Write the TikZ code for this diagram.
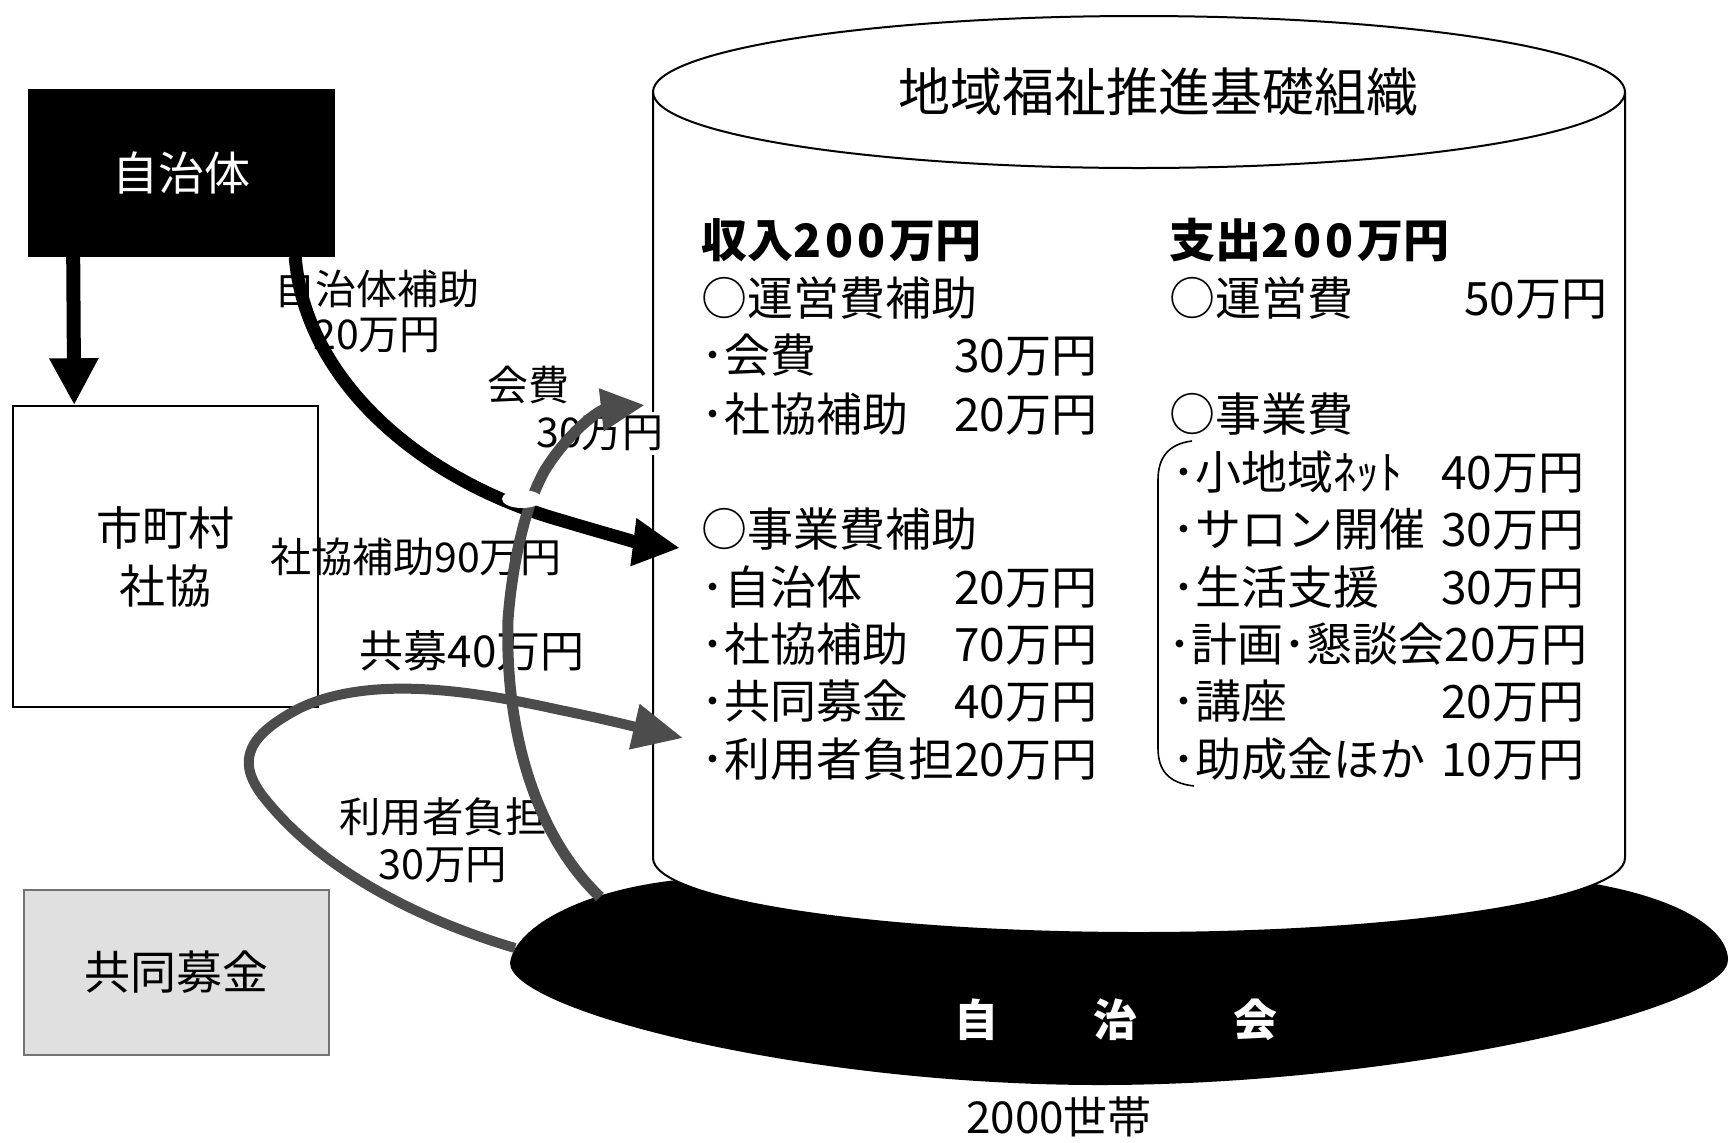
\documentclass[tikz,border=0pt]{standalone}
\usepackage{fontspec}
\setmainfont{Noto Sans CJK JP}
\usetikzlibrary{arrows.meta}
\newcommand\rowL[2]{\makebox[198pt]{#1\hfill #2}}
\newcommand\rowR[2]{\makebox[206pt]{#1\hfill #2}}
\newcommand\digsp[1]{#1\hspace{2pt}}
\begin{document}
\begin{tikzpicture}[x=0.5pt,y=-0.5pt,
  box/.style={draw, line width=0.8pt, inner sep=0pt, minimum width=152.5pt, font=\fontsize{23}{29}\selectfont, align=center},
  item/.style={font=\fontsize{23}{28}\selectfont, inner sep=0pt, anchor=west},
  headtxt/.style={font=\fontsize{23}{28}\selectfont\bfseries, inner sep=0pt, anchor=west},
  lbl/.style={font=\fontsize{20.5}{22.5}\selectfont, inner sep=0pt, align=center},
  blackarrow/.style={draw=black, line width=6.5pt, -{Triangle[length=23.5pt,width=22.5pt]}},
  downarrow/.style={draw=black, line width=7pt, -{Triangle[length=23.5pt,width=23pt]}},
  grayarrow/.style={draw=black!70, line width=5.5pt, -{Triangle[length=22pt,width=20pt]}},
]
\useasboundingbox (0,0) rectangle (1729,1142);
\fill[white] (0,0) rectangle (1729,1142);

% saucer (自治会)
\fill[black] (510,963) .. controls (515,925) and (590,885) .. (700,878) -- (1570,880)
  .. controls (1680,895) and (1728,930) .. (1728,960)
  .. controls (1728,1010) and (1400,1085) .. (1100,1085)
  .. controls (800,1085) and (510,1010) .. (510,963);

% cylinder
\draw[fill=white, line width=1pt] (653,92) -- (653,858)
  arc[start angle=180, end angle=0, x radius=486, y radius=75] -- (1625,92)
  arc[start angle=0, end angle=-180, x radius=486, y radius=76] -- cycle;
\draw[line width=1pt] (653,92) arc[start angle=180, end angle=0, x radius=486, y radius=76];

\node[font=\fontsize{26}{30}\selectfont, inner sep=0pt] (title) at (1158,92) {地域福祉推進基礎組織};

% income column
\node[headtxt] (inc) at (701,240) {収入\digsp{2}\digsp{0}\digsp{0}万円};
\node[item] (inc1) at (701,298) {○運営費補助};
\node[item] (inc2) at (701,355) {\rowL{･会費}{30万円}};
\node[item] (inc3) at (701,414) {\rowL{･社協補助}{20万円}};
\node[item] (inc4) at (701,529) {○事業費補助};
\node[item] (inc5) at (701,587) {\rowL{･自治体}{20万円}};
\node[item] (inc6) at (701,644) {\rowL{･社協補助}{70万円}};
\node[item] (inc7) at (701,701) {\rowL{･共同募金}{40万円}};
\node[item] (inc8) at (701,759) {\rowL{･利用者負担}{20万円}};

% expense column
\node[headtxt] (exp) at (1169,240) {支出\digsp{2}\digsp{0}\digsp{0}万円};
\node[item] (exp1) at (1169,298) {\makebox[219pt]{○運営費\hfill 50万円}};
\node[item] (exp2) at (1169,414) {○事業費};
\node[item] (exp3) at (1172,472) {\rowR{･小地域ﾈｯﾄ}{40万円}};
\node[item] (exp4) at (1172,529) {\rowR{･サロン開催}{30万円}};
\node[item] (exp5) at (1172,587) {\rowR{･生活支援}{30万円}};
\node[item] (exp6) at (1172,644) {\rowR{･計画･懇談会}{20万円}};
\node[item] (exp7) at (1172,701) {\rowR{･講座}{20万円}};
\node[item] (exp8) at (1172,759) {\rowR{･助成金ほか}{10万円}};
\draw[line width=0.8pt] (1192,441) .. controls (1168,444) and (1158,458) .. (1158,480)
  -- (1158,748) .. controls (1158,770) and (1168,783) .. (1194,786);

% left boxes
\node[box, fill=black, text=white, minimum height=83pt] (jt) at (181.5,173) {自治体};
\node[box, minimum height=150.5pt] (sk) at (165.5,556.5) {市町村\\社協};
\node[box, fill=black!12, draw=black!55, minimum height=82.5pt] (kb) at (176.5,972.5) {共同募金};

% labels
\node[lbl] (l1) at (377,311) {自治体補助\\20万円};
\node[lbl] (l2a) at (528,385) {会費};
\node[lbl, fill=white, inner sep=2pt] (l2b) at (600,433) {30万円};
\node[lbl] (l3) at (416,557) {社協補助90万円};
\node[lbl, font=\fontsize{22}{24}\selectfont] (l4) at (472,651) {共募40万円};
\node[lbl, font=\fontsize{20.7}{23.5}\selectfont] (l5) at (443,840) {利用者負担\\30万円};

% connectors
\coordinate (jtdown) at ([xshift=22.5pt]jt.south west);
\coordinate (skin) at ([xshift=31pt]sk.north west);
\draw[downarrow] (jtdown) -- (skin);

\coordinate (jtout) at ([xshift=133.5pt]jt.south west);
\coordinate (cylA) at (680,548);
\draw[blackarrow] (jtout) .. controls (305,380) and (420,480) .. (560,520)
  .. controls (600,532) and (640,543) .. (cylA);

\coordinate (zkA) at (600,897);
\coordinate (cylB) at (645,405);
\draw[grayarrow] (zkA) .. controls (530,830) and (505,720) .. (508,620)
  .. controls (512,565) and (525,505) .. (545,470)
  .. controls (570,430) and (600,410) .. (cylB);

\fill[white] (522,499) ellipse [x radius=20, y radius=9];

\coordinate (zkB) at (515,948);
\coordinate (cylC) at (683,738);
\draw[grayarrow, line width=5pt, -{Triangle[length=25pt,width=22pt]}] (zkB)
  .. controls (420,920) and (320,870) .. (262,795)
  .. controls (236,760) and (248,735) .. (300,708)
  .. controls (370,675) and (470,690) .. (560,710)
  .. controls (600,718) and (640,728) .. (cylC);

% saucer text and households
\node[font=\fontsize{22}{24}\selectfont\bfseries, text=white, inner sep=0pt] (zjk) at (1116,1020) {自\hspace{48pt}治\hspace{48pt}会};
\node[font=\fontsize{22}{24}\selectfont, inner sep=0pt] (hh) at (1059,1117) {2000世帯};
\end{tikzpicture}
\end{document}
